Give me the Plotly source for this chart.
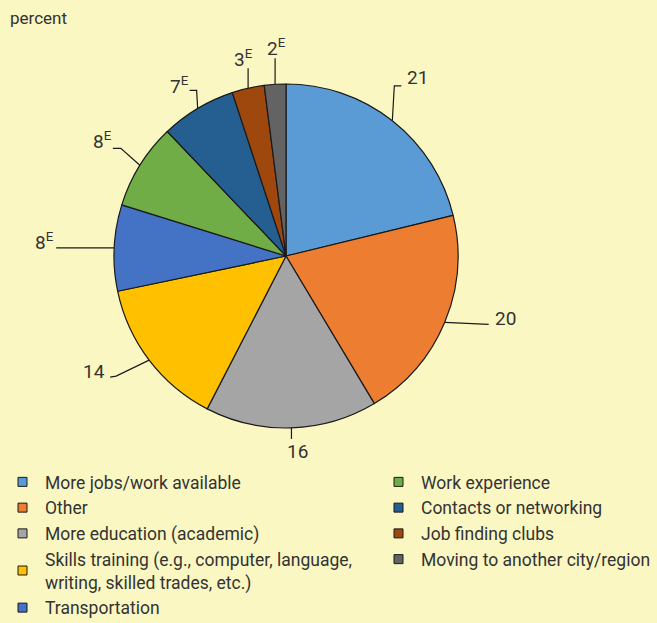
import math

import plotly.graph_objects as go

W, H = 657, 623

# data, clockwise from 12 o'clock
labels = [
    "More jobs/work available",
    "Other",
    "More education (academic)",
    "Skills training (e.g., computer, language,<br>writing, skilled trades, etc.)",
    "Transportation",
    "Work experience",
    "Contacts or networking",
    "Job finding clubs",
    "Moving to another city/region",
]
values = [21, 20, 16, 14, 8, 8, 7, 3, 2]
value_text = ["21", "20", "16", "14", "8<sup>E</sup>", "8<sup>E</sup>",
              "7<sup>E</sup>", "3<sup>E</sup>", "2<sup>E</sup>"]
colors = ["#5B9BD5", "#ED7D31", "#A5A5A5", "#FFC000", "#4472C4",
          "#70AD47", "#255E91", "#9E480E", "#636363"]

BG = "#FAF7C3"
INK = "#333333"
FONT = "Roboto, sans-serif"

# pie geometry (pixels)
cx, cy, r = 286, 256, 172

# leader line style per slice: knee offset, end offset, text offset, text anchor
# (offsets in px relative to where the slice mid-angle meets the rim)
leaders = [
    ((2, -35), (9, -35), (13, -43), "left"),
    (None, (44, 2), (48, -4), "left"),
    (None, (0, 11), (6, 24), "center"),
    ((-33, 16), (-39, 17), (-42, 11), "right"),
    (None, (-58, 0), (-58, -6), "right"),
    ((-19, -17), (-27, -17), (-26, -25), "right"),
    ((-1, -18), (-8, -18), (-7, -23), "right"),
    (None, (0, -20), (-5, -30), "center"),
    (None, (0, -26), (1, -37), "center"),
]


def px(x, y):
    return x / W, 1 - y / H


fig = go.Figure()
fig.add_trace(go.Pie(
    labels=labels,
    values=values,
    sort=False,
    direction="clockwise",
    rotation=0,
    marker=dict(colors=colors, line=dict(color="#1a1a1a", width=1.2)),
    textinfo="none",
    hoverinfo="label+value",
    showlegend=False,
    domain=dict(x=[(cx - r) / W, (cx + r) / W], y=[1 - (cy + r) / H, 1 - (cy - r) / H]),
))

# labels with leader lines
total = sum(values)
cum = 0
for v, txt, (knee, end, toff, anchor) in zip(values, value_text, leaders):
    ang = math.radians((cum + v / 2) / total * 360)
    cum += v
    ax, ay = cx + r * math.sin(ang), cy - r * math.cos(ang)
    pts = [(ax, ay)]
    if knee:
        pts.append((ax + knee[0], ay + knee[1]))
    pts.append((ax + end[0], ay + end[1]))
    path = ""
    for i, (x, y) in enumerate(pts):
        xp, yp = px(x, y)
        path += ("M" if i == 0 else "L") + f"{xp},{yp} "
    fig.add_shape(type="path", path=path, xref="paper", yref="paper",
                  line=dict(color="#1a1a1a", width=1.2))
    tx, ty = px(ax + toff[0], ay + toff[1])
    fig.add_annotation(x=tx, y=ty, xref="paper", yref="paper", text=txt,
                       showarrow=False, xanchor=anchor, yanchor="middle",
                       font=dict(size=19, color=INK, family=FONT))

# legend entries (two columns)
left_items = range(0, 5)
for i in range(9):
    fig.add_trace(go.Scatter(
        x=[None], y=[None], mode="markers", name=labels[i],
        marker=dict(symbol="square", size=9, color=colors[i],
                    line=dict(color="#1a1a1a", width=1)),
        legend="legend" if i in left_items else "legend2",
    ))

legend_style = dict(bgcolor="rgba(0,0,0,0)", font=dict(size=17.5, color=INK, family=FONT),
                    yanchor="top", xanchor="left", itemwidth=35, tracegroupgap=0,
                    traceorder="normal")

fig.add_annotation(x=px(8, 0)[0], y=px(0, 18)[1], xref="paper", yref="paper",
                   text="percent", showarrow=False, xanchor="left", yanchor="middle",
                   font=dict(size=17, color=INK, family=FONT))

fig.update_layout(
    width=W, height=H,
    paper_bgcolor=BG, plot_bgcolor=BG,
    margin=dict(l=0, r=0, t=0, b=0, autoexpand=False),
    xaxis=dict(visible=False), yaxis=dict(visible=False),
    legend=dict(x=0, y=px(0, 464)[1], **legend_style),
    legend2=dict(x=px(376, 0)[0], y=px(0, 464)[1], **legend_style),
    font=dict(family=FONT, color=INK),
)

fig.write_html("out.html", config={"displayModeBar": False},
               post_script="document.body.style.margin='0';")
